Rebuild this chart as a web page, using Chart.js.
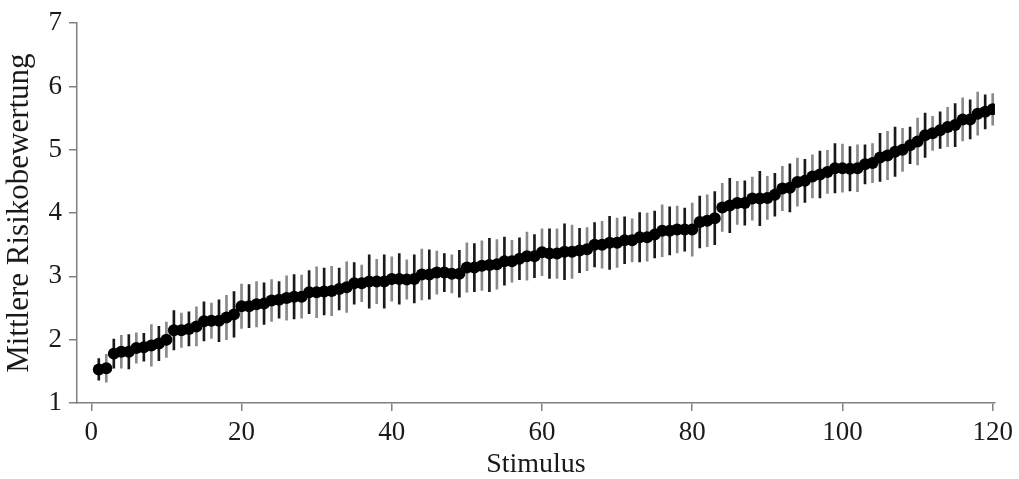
<!DOCTYPE html>
<html><head><meta charset="utf-8">
<script src="https://cdn.jsdelivr.net/npm/chart.js@4.4.0/dist/chart.umd.min.js"></script>
<style>html,body{margin:0;padding:0;background:#fff}#wrap{width:1019px;height:479px}</style>
</head><body><div id="wrap"><canvas id="c" width="1019" height="479"></canvas></div>
<script>
const stimulus = [1,2,3,4,5,6,7,8,9,10,11,12,13,14,15,16,17,18,19,20,
21,22,23,24,25,26,27,28,29,30,31,32,33,34,35,36,37,38,39,40,
41,42,43,44,45,46,47,48,49,50,51,52,53,54,55,56,57,58,59,60,
61,62,63,64,65,66,67,68,69,70,71,72,73,74,75,76,77,78,79,80,
81,82,83,84,85,86,87,88,89,90,91,92,93,94,95,96,97,98,99,100,
101,102,103,104,105,106,107,108,109,110,111,112,113,114,115,116,117,118,119,120];

const meanRisk = [1.53,1.55,1.78,1.81,1.81,1.87,1.88,1.91,1.94,2.00,
2.15,2.15,2.17,2.21,2.29,2.30,2.30,2.35,2.40,2.53,
2.53,2.56,2.57,2.62,2.63,2.66,2.68,2.68,2.75,2.75,
2.76,2.77,2.80,2.83,2.89,2.89,2.92,2.92,2.92,2.96,
2.96,2.95,2.96,3.03,3.03,3.06,3.06,3.04,3.04,3.14,
3.14,3.17,3.18,3.19,3.24,3.24,3.28,3.32,3.32,3.38,
3.36,3.36,3.39,3.39,3.41,3.43,3.50,3.50,3.53,3.53,
3.57,3.57,3.62,3.62,3.66,3.72,3.72,3.74,3.74,3.74,
3.86,3.88,3.92,4.09,4.12,4.16,4.16,4.23,4.23,4.24,
4.29,4.39,4.40,4.49,4.51,4.58,4.61,4.65,4.71,4.71,
4.70,4.71,4.77,4.79,4.88,4.91,4.97,5.00,5.07,5.13,
5.23,5.26,5.31,5.36,5.39,5.48,5.48,5.57,5.60,5.64];

const errRisk = [0.17,0.22,0.23,0.26,0.27,0.24,0.22,0.33,0.27,0.28,
0.31,0.27,0.27,0.31,0.31,0.28,0.33,0.35,0.36,0.35,
0.34,0.36,0.33,0.33,0.29,0.35,0.35,0.34,0.34,0.40,
0.37,0.39,0.33,0.40,0.33,0.29,0.42,0.35,0.42,0.35,
0.40,0.31,0.38,0.40,0.39,0.34,0.30,0.30,0.37,0.39,
0.38,0.39,0.42,0.39,0.38,0.33,0.33,0.38,0.34,0.37,
0.39,0.39,0.44,0.42,0.35,0.34,0.35,0.37,0.42,0.39,
0.37,0.34,0.39,0.38,0.37,0.41,0.38,0.37,0.34,0.42,
0.41,0.41,0.42,0.38,0.43,0.34,0.35,0.34,0.43,0.34,
0.34,0.35,0.38,0.38,0.34,0.34,0.37,0.34,0.39,0.38,
0.35,0.37,0.31,0.31,0.38,0.38,0.39,0.34,0.29,0.37,
0.35,0.27,0.29,0.31,0.34,0.34,0.31,0.34,0.27,0.25];

const xTickValues = [0,20,40,60,80,100,120];
const yTickValues = [1,2,3,4,5,6,7];
const xTitle = 'Stimulus';
const yTitle = 'Mittlere Risikobewertung';

const barColors = stimulus.map((s,i)=> i % 2 === 0 ? '#1a1a1a' : '#8a8a8a');
const axisColor = '#808080';
const textColor = '#1a1a1a';
const serif = "'Liberation Serif','Times New Roman',serif";

new Chart(document.getElementById('c'), {
  type: 'bar',
  data: {
    datasets: [
      {
        type: 'line',
        label: 'Mittelwert',
        data: stimulus.map((s,i)=>({x:s, y:meanRisk[i]})),
        showLine: false,
        pointRadius: 6,
        pointBackgroundColor: '#000',
        pointBorderColor: '#000',
        pointBorderWidth: 0,
        order: 0
      },
      {
        type: 'bar',
        label: 'SD',
        data: stimulus.map((s,i)=>({x:s, y:[meanRisk[i]-errRisk[i], meanRisk[i]+errRisk[i]]})),
        backgroundColor: barColors,
        borderWidth: 0,
        barThickness: 2,
        order: 1
      }
    ]
  },
  options: {
    responsive: false,
    devicePixelRatio: 1,
    animation: false,
    layout: { padding: { top: 20, right: 19, left: 0, bottom: 0 } },
    plugins: { legend: { display: false }, tooltip: { enabled: false } },
    scales: {
      x: {
        type: 'linear',
        offset: false,
        min: -1.9,
        max: 120.3,
        afterBuildTicks: s => { s.ticks = xTickValues.map(v=>({value:v})); },
        afterFit: s => { s.height = 76; },
        border: { display: true, color: axisColor, width: 1.5 },
        grid: { display: true, offset: false, drawOnChartArea: false, drawTicks: true, tickLength: 8, color: axisColor, lineWidth: 1.5 },
        ticks: { color: textColor, font: { family: serif, size: 27 }, padding: 6, maxRotation: 0, autoSkip: false },
        title: { display: true, text: xTitle, color: textColor, font: { family: serif, size: 28, lineHeight: 1 }, padding: { top: 0, bottom: 0 } }
      },
      y: {
        type: 'linear',
        min: 1,
        max: 7,
        afterBuildTicks: s => { s.ticks = yTickValues.map(v=>({value:v})); },
        afterFit: s => { s.width = 77; },
        border: { display: true, color: axisColor, width: 1.5 },
        grid: { display: true, drawOnChartArea: false, drawTicks: true, tickLength: 8, color: axisColor, lineWidth: 1.5 },
        ticks: { color: textColor, font: { family: serif, size: 27 }, padding: 7 },
        title: { display: true, text: yTitle, color: textColor, font: { family: serif, size: 31, lineHeight: 1 }, padding: { top: 4, bottom: 0 } }
      }
    }
  }
});
</script>
</body></html>
